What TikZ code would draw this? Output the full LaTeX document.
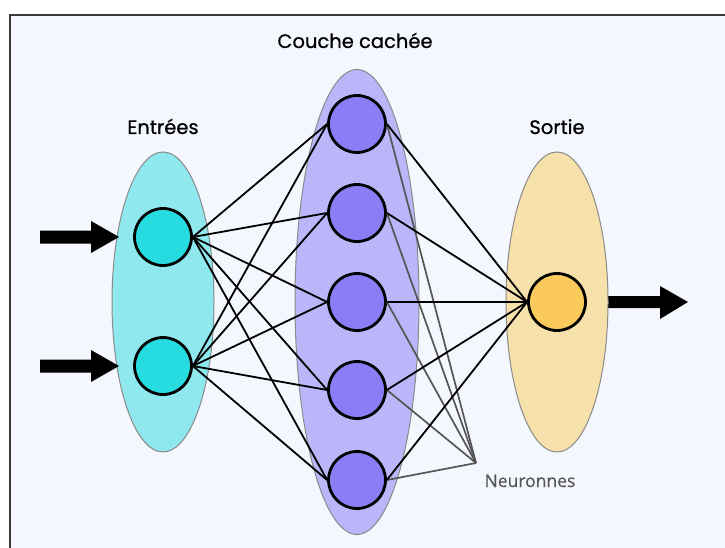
\documentclass[tikz,border=0pt]{standalone}
\usepackage{fontspec}
\newfontfamily\labelfont[FakeBold=0.7]{Poppins}
\newfontfamily\notefont[FakeBold=0.3]{Open Sans}
\usetikzlibrary{shapes.geometric}
\definecolor{bgcol}{HTML}{F4F7FE}
\definecolor{framecol}{HTML}{3A3A3A}
\definecolor{incirc}{HTML}{26DCE0}
\definecolor{inell}{HTML}{8EE8EE}
\definecolor{hidcirc}{HTML}{8A7DF6}
\definecolor{hidell}{HTML}{BBB5FA}
\definecolor{outcirc}{HTML}{FBCA5C}
\definecolor{outell}{HTML}{F7E1AB}
\definecolor{ellborder}{HTML}{8A8A8A}
\definecolor{notecol}{HTML}{555555}
\tikzset{
  layerell/.style={ellipse, draw=ellborder, line width=1pt, inner sep=0pt},
  neuron/.style={circle, draw=black, line width=2.8pt, minimum size=57pt, inner sep=0pt},
  conn/.style={draw=black, line width=1.8pt},
  pointer/.style={draw=notecol, line width=1.7pt},
  lbl/.style={font=\labelfont\fontsize{19.5}{22}\selectfont, text=black, anchor=base, inner sep=0pt},
  note/.style={font=\notefont\fontsize{17.5}{20}\selectfont, text=notecol, anchor=base, inner sep=0pt},
  blockarrow/.style={fill=black}
}
\begin{document}
\begin{tikzpicture}[x=1pt,y=-1pt]
\useasboundingbox (0,0) rectangle (725,548);
\clip (0,0) rectangle (725,548);
\fill[white] (0,0) rectangle (725,548);
\filldraw[fill=bgcol, draw=framecol, line width=1.6pt] (10,15) rectangle (760,600);

% layer ellipses
\node[layerell, fill=inell, minimum width=102pt, minimum height=300pt] (inl) at (163,302) {};
\node[layerell, fill=hidell, minimum width=124pt, minimum height=465pt] (hidl) at (357,302) {};
\fill[blockarrow] (600,296) -- (660,296) -- (660,286) -- (688,302) -- (660,319) -- (660,308) -- (600,308) -- cycle;
\node[layerell, fill=outell, minimum width=102pt, minimum height=300pt] (outl) at (557,302) {};

% input arrows
\foreach \c in {237,366}{
  \fill[blockarrow] (40,\c-6.5) -- (91,\c-6.5) -- (91,\c-16) -- (119,\c) -- (91,\c+16) -- (91,\c+6.5) -- (40,\c+6.5) -- cycle;
}

% neurons
\node[neuron, fill=incirc] (i1) at (163,237) {};
\node[neuron, fill=incirc] (i2) at (163,366) {};
\node[neuron, fill=hidcirc] (h1) at (357,124) {};
\node[neuron, fill=hidcirc] (h2) at (357,213) {};
\node[neuron, fill=hidcirc] (h3) at (357,302) {};
\node[neuron, fill=hidcirc] (h4) at (357,390) {};
\node[neuron, fill=hidcirc] (h5) at (357,480) {};
\node[neuron, fill=outcirc] (o1) at (557,302) {};

% pointer target
\coordinate (ptr) at (476,463);

% pointer lines
\foreach \h in {h1,h2,h3,h4,h5}{
  \draw[pointer] (\h.east) -- (ptr);
}

% connections
\foreach \i in {i1,i2}{
  \foreach \h in {h1,h2,h3,h4,h5}{
    \draw[conn] (\i.east) -- (\h.west);
  }
}
\foreach \h in {h1,h2,h3,h4,h5}{
  \draw[conn] (\h.east) -- (o1.west);
}

% labels
\node[lbl] (tHid) at (355,48) {Couche cachée};
\node[lbl] (tIn) at (163,134) {Entrées};
\node[lbl] (tOut) at (557,134) {Sortie};
\node[note] (tNote) at (530,487) {Neuronnes};
\end{tikzpicture}
\end{document}
